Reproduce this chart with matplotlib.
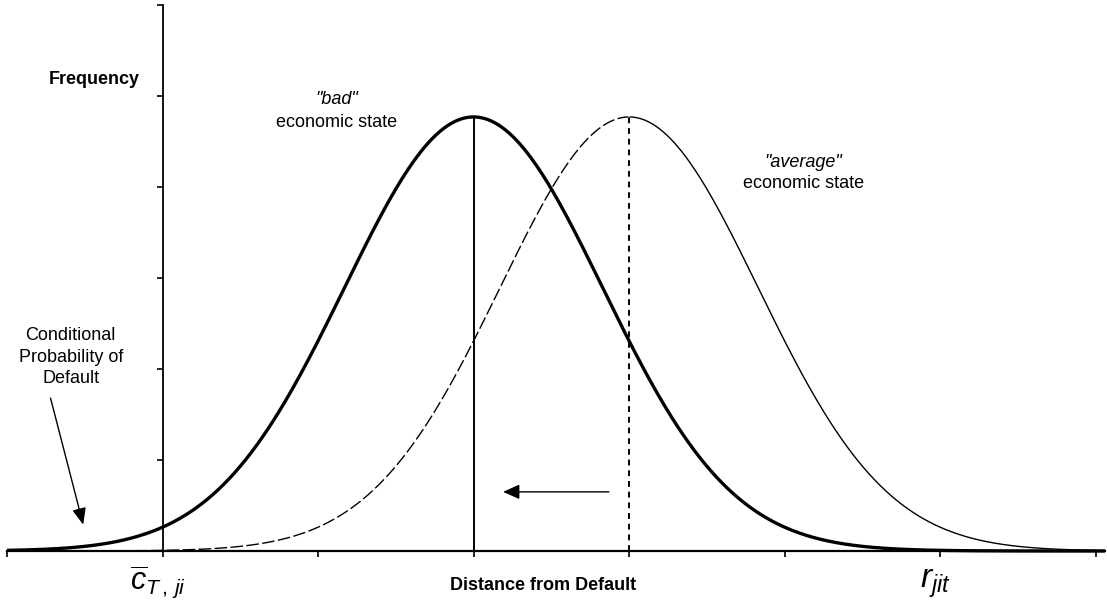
import matplotlib
matplotlib.use('Agg')
import matplotlib.pyplot as plt
import numpy as np

plt.rcParams['font.family'] = ['Liberation Sans', 'DejaVu Sans']
plt.rcParams['mathtext.fontset'] = 'custom'
plt.rcParams['mathtext.rm'] = 'Liberation Sans'
plt.rcParams['mathtext.it'] = 'Liberation Sans:italic'

# curve parameters (x in tick units, y in tick units)
bad_mean = 2.0
avg_mean = 3.0
sigma = 0.83
peak = 4.77
x_ticks = [-1, 0, 1, 2, 3, 4, 5, 6]
y_ticks = [0, 1, 2, 3, 4, 5, 6]

x = np.linspace(-1, 6.06, 600)
bad = peak * np.exp(-0.5 * ((x - bad_mean) / sigma) ** 2)
avg = peak * np.exp(-0.5 * ((x - avg_mean) / sigma) ** 2)

fig = plt.figure(figsize=(11.07, 6.10), dpi=100)
ax = fig.add_axes([7 / 1107, 1 - 551 / 610, 1098 / 1107, 546 / 610])
ax.set_xlim(-1, 6.06)
ax.set_ylim(0, 6)

# "bad" state: thick solid
ax.plot(x, bad, color='black', lw=2.4, solid_capstyle='butt', clip_on=False)
# "average" state: dashed left half, thin solid right half
left = x <= avg_mean
ax.plot(x[left], avg[left], color='black', lw=1.0, ls=(0, (9, 2.5)))
ax.plot(x[~left], avg[~left], color='black', lw=1.0)

# mean lines
ax.plot([bad_mean, bad_mean], [0, peak], color='black', lw=1.4)
ax.plot([avg_mean, avg_mean], [0, peak], color='black', lw=1.4, ls=(0, (3, 2.5)))

# axes
for s in ['top', 'right']:
    ax.spines[s].set_visible(False)
ax.spines['left'].set_position(('data', 0))
ax.spines['left'].set_linewidth(1.3)
ax.spines['bottom'].set_linewidth(1.6)
ax.set_xticks(x_ticks)
ax.set_yticks(y_ticks)
ax.tick_params(axis='both', direction='out', length=4, width=1.2,
               labelbottom=False, labelleft=False)

# shift arrow
ax.annotate('', xy=(2.19, 0.65), xytext=(2.87, 0.65),
            arrowprops=dict(arrowstyle='-|>,head_length=1.0,head_width=0.45',
                            color='black', lw=1.0, shrinkA=0, shrinkB=0))
# conditional PD arrow
ax.annotate('', xy=(-0.51, 0.29), xytext=(-0.72, 1.68),
            arrowprops=dict(arrowstyle='-|>,head_length=1.0,head_width=0.42',
                            color='black', lw=1.0, shrinkA=0, shrinkB=0),
            annotation_clip=False)

fs = 13
ax.text(-0.44, 5.18, 'Frequency', fontsize=fs, fontweight='bold',
        ha='center', va='center')
ax.text(1.12, 4.96, '"bad"', fontsize=fs, style='italic', ha='center', va='center')
ax.text(1.12, 4.71, 'economic state', fontsize=fs, ha='center', va='center')
ax.text(4.12, 4.27, '"average"', fontsize=fs, style='italic', ha='center', va='center')
ax.text(4.12, 4.04, 'economic state', fontsize=fs, ha='center', va='center')
ax.text(-0.59, 2.13, 'Conditional\nProbability of\nDefault', fontsize=fs,
        ha='center', va='center', linespacing=1.35)

ax.text(-0.03, -0.34, r'$\overline{c}_{T\,,\,ji}$', fontsize=22,
        ha='center', va='center', clip_on=False)
ax.text(2.45, -0.38, 'Distance from Default', fontsize=fs, fontweight='bold',
        ha='center', va='center')
ax.text(4.97, -0.36, r'$r_{jit}$', fontsize=24, ha='center', va='center')

fig.savefig('out.png', dpi=100)
